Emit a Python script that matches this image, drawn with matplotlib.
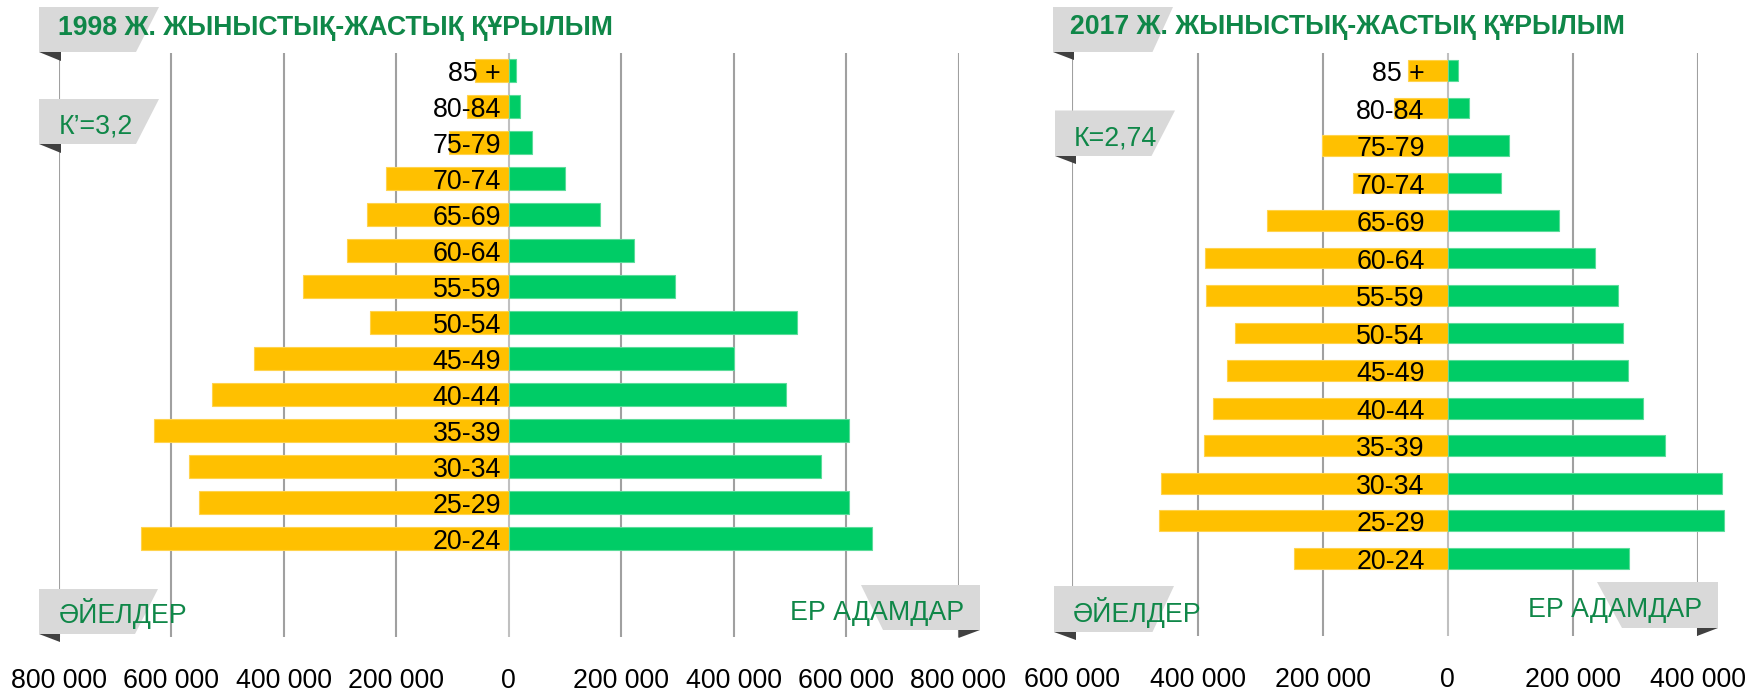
import matplotlib
matplotlib.use("Agg")
import matplotlib.pyplot as plt
from matplotlib.patches import Polygon
from matplotlib.transforms import Affine2D

W, H = 1752, 692

ages = ['85 +', '80-84', '75-79', '70-74', '65-69', '60-64', '55-59',
        '50-54', '45-49', '40-44', '35-39', '30-34', '25-29', '20-24']

# 1998
women_1998 = [60000, 73500, 107000, 218000, 252000, 288000, 366000,
              246000, 453000, 527000, 630000, 569000, 550000, 654000]
men_1998 = [13500, 20000, 41000, 101000, 163000, 223000, 295000,
            513000, 401000, 493000, 605000, 556000, 605000, 646000]
ticks_1998 = [-800000, -600000, -400000, -200000, 0, 200000, 400000, 600000, 800000]
ticklabels_1998 = ['800 000', '600 000', '400 000', '200 000', '0',
                   '200 000', '400 000', '600 000', '800 000']

# 2017
women_2017 = [63500, 86500, 201000, 152000, 289000, 388000, 387000,
              340000, 353000, 376000, 390000, 458000, 462000, 246000]
men_2017 = [17000, 33600, 98000, 85000, 178000, 236000, 272000,
            281000, 288000, 313000, 348000, 439000, 442000, 290000]
ticks_2017 = [-600000, -400000, -200000, 0, 200000, 400000]
ticklabels_2017 = ['600 000', '400 000', '200 000', '0', '200 000', '400 000']

FONT = ['Liberation Sans', 'DejaVu Sans']
GREEN_TXT = '#0F8748'
YELLOW = '#FFC000'
GREEN = '#00CC66'
BOX = '#D9D9D9'
FOLD = '#404040'
FS = 19.3

plt.rcParams['font.family'] = FONT

fig = plt.figure(figsize=(W / 100, H / 100), dpi=100)
# pixel coords from top-left corner
px = Affine2D().scale(1 / W, -1 / H).translate(0, 1) + fig.transFigure


def make_axes(x0, x1, y0, y1):
    return fig.add_axes([x0 / W, 1 - y1 / H, (x1 - x0) / W, (y1 - y0) / H])


def pyramid(ax, women, men, ticks, labels, xlim, ylim, height, label_dx):
    pos = list(range(len(ages)))
    ax.barh(pos, [-v for v in women], height=height, color=YELLOW,
            edgecolor='#FFD34D', linewidth=0.8, zorder=2, clip_on=False)
    ax.barh(pos, men, height=height, color=GREEN,
            edgecolor='#5BDC9A', linewidth=0.8, zorder=2, clip_on=False)
    for i, a in enumerate(ages):
        ax.annotate(a, xy=(0, i), xytext=(label_dx, -10.5 * 0.72),
                    textcoords='offset points', ha='right', va='baseline',
                    fontsize=FS, color='black', zorder=3)
    ax.set_xlim(*xlim)
    ax.set_ylim(*ylim)
    ax.set_xticks(ticks)
    ax.set_xticklabels(labels, fontsize=FS)
    ax.set_yticks([])
    ax.tick_params(axis='x', length=0, pad=22.5)
    for s in ax.spines.values():
        s.set_visible(False)
    ax.set_axisbelow(True)
    ax.grid(axis='x', color='#A0A0A0', linewidth=1.5)
    ax.get_xgridlines()[ticks.index(0)].set_color('#C0C0C0')
    ax.patch.set_alpha(0)


def callout(pts, fold, text, tx, ty):
    fig.add_artist(Polygon(pts, closed=True, facecolor=BOX, edgecolor='none',
                           transform=px, zorder=5))
    fig.add_artist(Polygon(fold, closed=True, facecolor=FOLD, edgecolor='none',
                           transform=px, zorder=5))
    if text:
        fig.text(tx, ty, text, transform=px, fontsize=FS, color=GREEN_TXT,
                 ha='left', va='baseline', zorder=6)


# ---- 1998 ----
ax1 = make_axes(58.9, 958.5, 53, 637)
pyramid(ax1, women_1998, men_1998, ticks_1998, ticklabels_1998,
        (-800000, 800000), (15.73, -0.486), 0.63, -5.5)

callout([(39, 7), (159, 7), (136, 52), (39, 52)],
        [(39, 52), (61, 52), (61, 61)], None, 0, 0)
fig.text(57.5, 35, '1998 Ж. ЖЫНЫСТЫҚ-ЖАСТЫҚ ҚҰРЫЛЫМ', transform=px,
         fontsize=19.2, fontweight='bold', color=GREEN_TXT, va='baseline', zorder=6)
callout([(39, 99), (159, 99), (136, 144), (39, 144)],
        [(39, 144), (61, 144), (61, 152.5)], 'К’=3,2', 58.5, 133.3)
callout([(39, 589), (158, 589), (135, 634), (39, 634)],
        [(39, 634), (60, 634), (60, 642)], 'ӘЙЕЛДЕР', 58.7, 623)
callout([(861, 585), (980, 585), (980, 630), (883, 630)],
        [(958.5, 630), (980, 630), (958.5, 638)], 'ЕР АДАМДАР', 790, 620)

# ---- 2017 ----
ax2 = make_axes(1072.4, 1697.9, 52.7, 636)
pyramid(ax2, women_2017, men_2017, ticks_2017, ticklabels_2017,
        (-600000, 400000), (15.07, -0.474), 0.55, -16.6)

callout([(1053, 7), (1173, 7), (1152.5, 52), (1053, 52)],
        [(1053, 52), (1074, 52), (1074, 60)], None, 0, 0)
fig.text(1069.5, 34, '2017 Ж. ЖЫНЫСТЫҚ-ЖАСТЫҚ ҚҰРЫЛЫМ', transform=px,
         fontsize=19.2, fontweight='bold', color=GREEN_TXT, va='baseline', zorder=6)
callout([(1055, 110.5), (1175, 110.5), (1151.5, 156), (1055, 156)],
        [(1055, 156), (1076, 156), (1076, 164)], 'К=2,74', 1074, 145.7)
callout([(1054, 586), (1174, 586), (1152.5, 632), (1054, 632)],
        [(1054, 632), (1076, 632), (1076, 640)], 'ӘЙЕЛДЕР', 1073, 621.7)
callout([(1597, 582), (1718, 582), (1718, 628), (1622, 628)],
        [(1697, 628), (1718, 628), (1697, 636)], 'ЕР АДАМДАР', 1528, 616.7)

fig.savefig('out.png', dpi=100)
